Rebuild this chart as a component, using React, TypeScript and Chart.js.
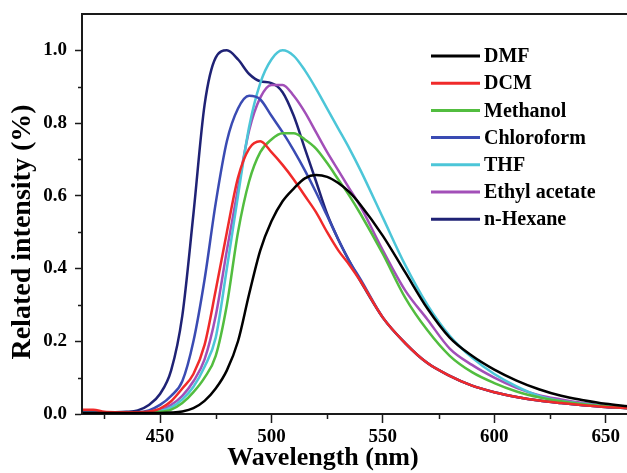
import React, { useEffect, useRef } from "react";
import { Chart, registerables } from "chart.js";

Chart.register(...registerables);

const WAVELENGTHS = [415, 420, 425, 430, 435, 440, 445, 450, 455, 460, 465, 470, 475, 480, 485, 490, 495, 500, 505, 510, 515, 520, 525, 530, 535, 540, 550, 560, 570, 580, 590, 600, 610, 620, 630, 640, 650, 660];

const DMF = [0.003, 0.003, 0.003, 0.003, 0.003, 0.003, 0.003, 0.003, 0.004, 0.007, 0.016, 0.036, 0.07, 0.12, 0.2, 0.33, 0.45, 0.53, 0.585, 0.62, 0.648, 0.657, 0.652, 0.635, 0.61, 0.575, 0.49, 0.39, 0.29, 0.21, 0.16, 0.122, 0.092, 0.068, 0.05, 0.038, 0.028, 0.021];
const DCM = [0.012, 0.012, 0.006, 0.005, 0.005, 0.005, 0.007, 0.015, 0.035, 0.07, 0.11, 0.19, 0.34, 0.5, 0.65, 0.73, 0.75, 0.72, 0.685, 0.645, 0.6, 0.555, 0.5, 0.45, 0.41, 0.365, 0.265, 0.195, 0.14, 0.105, 0.078, 0.06, 0.047, 0.037, 0.03, 0.024, 0.019, 0.016];
const METHANOL = [0.003, 0.003, 0.003, 0.003, 0.003, 0.004, 0.005, 0.006, 0.012, 0.03, 0.06, 0.1, 0.16, 0.3, 0.5, 0.64, 0.72, 0.755, 0.772, 0.772, 0.755, 0.73, 0.69, 0.645, 0.6, 0.55, 0.44, 0.32, 0.23, 0.16, 0.115, 0.085, 0.062, 0.046, 0.035, 0.027, 0.021, 0.016];
const CHLOROFORM = [0.005, 0.005, 0.005, 0.005, 0.005, 0.005, 0.01, 0.025, 0.05, 0.09, 0.2, 0.37, 0.58, 0.75, 0.84, 0.875, 0.865, 0.82, 0.775, 0.725, 0.67, 0.61, 0.545, 0.48, 0.42, 0.37, 0.265, 0.195, 0.14, 0.105, 0.078, 0.06, 0.047, 0.037, 0.03, 0.024, 0.019, 0.016];
const THF = [0.003, 0.003, 0.003, 0.003, 0.003, 0.004, 0.005, 0.008, 0.018, 0.04, 0.075, 0.13, 0.21, 0.4, 0.6, 0.79, 0.91, 0.975, 1.0, 0.985, 0.945, 0.895, 0.84, 0.785, 0.73, 0.67, 0.54, 0.41, 0.3, 0.215, 0.155, 0.11, 0.076, 0.05, 0.036, 0.028, 0.021, 0.016];
const ETHYL_ACETATE = [0.003, 0.003, 0.003, 0.003, 0.003, 0.004, 0.005, 0.01, 0.025, 0.05, 0.09, 0.15, 0.27, 0.45, 0.62, 0.78, 0.87, 0.905, 0.905, 0.875, 0.83, 0.775, 0.72, 0.67, 0.62, 0.57, 0.45, 0.34, 0.26, 0.18, 0.135, 0.1, 0.072, 0.052, 0.04, 0.03, 0.022, 0.016];
const N_HEXANE = [0.005, 0.005, 0.005, 0.005, 0.006, 0.01, 0.025, 0.055, 0.12, 0.27, 0.55, 0.85, 0.98, 1.0, 0.975, 0.935, 0.915, 0.91, 0.885, 0.82, 0.73, 0.64, 0.55, 0.48, 0.42, 0.365, 0.265, 0.195, 0.14, 0.105, 0.078, 0.06, 0.047, 0.037, 0.03, 0.024, 0.019, 0.016];

const SERIES_NAMES = ["DMF", "DCM", "Methanol", "Chloroform", "THF", "Ethyl acetate", "n-Hexane"];
const SERIES_VALUES = [DMF, DCM, METHANOL, CHLOROFORM, THF, ETHYL_ACETATE, N_HEXANE];
const COLORS = ["#000000", "#f02a2a", "#52bd3f", "#3a4bb3", "#4cc6d8", "#a24fb8", "#1f2275"];

const Y_TICKS = [0, 0.2, 0.4, 0.6, 0.8, 1.0];
const Y_MINOR = [0.1, 0.3, 0.5, 0.7, 0.9];
const X_TICKS = [450, 500, 550, 600, 650];
const X_MINOR = [425, 475, 525, 575, 625];

const X_TITLE = "Wavelength (nm)";
const Y_TITLE = "Related intensity (%)";

const FONT = '"Liberation Serif", "Times New Roman", serif';
const AXIS_COLOR = "#1a1a1a";

const decorPlugin = {
  id: "decor",
  afterDraw(chart: any) {
    const { ctx, chartArea, scales } = chart;
    const xs = scales.x;
    const ys = scales.y;
    ctx.save();
    ctx.strokeStyle = AXIS_COLOR;
    ctx.lineWidth = 2;
    ctx.beginPath();
    ctx.moveTo(chartArea.left, chartArea.bottom);
    ctx.lineTo(chartArea.left, chartArea.top);
    ctx.lineTo(chartArea.right, chartArea.top);
    ctx.lineTo(chartArea.right, chartArea.bottom);
    ctx.stroke();
    ctx.lineWidth = 1.5;
    ctx.beginPath();
    Y_MINOR.forEach((v) => {
      const y = Math.round(ys.getPixelForValue(v)) + 0.5;
      ctx.moveTo(chartArea.left, y);
      ctx.lineTo(chartArea.left - 4, y);
    });
    X_MINOR.forEach((v) => {
      const x = Math.round(xs.getPixelForValue(v)) + 0.5;
      ctx.moveTo(x, chartArea.bottom);
      ctx.lineTo(x, chartArea.bottom + 5);
    });
    ctx.stroke();
    const lx0 = 431;
    const lx1 = 480;
    const ly0 = 56;
    const dy = 27.2;
    ctx.font = `bold 20px ${FONT}`;
    ctx.textBaseline = "middle";
    ctx.textAlign = "left";
    SERIES_NAMES.forEach((name, i) => {
      const y = ly0 + i * dy;
      ctx.strokeStyle = COLORS[i];
      ctx.lineWidth = 3;
      ctx.beginPath();
      ctx.moveTo(lx0, y);
      ctx.lineTo(lx1, y);
      ctx.stroke();
      ctx.fillStyle = "#000";
      ctx.fillText(name, lx1 + 4, y + 1);
    });
    ctx.fillStyle = "#000";
    ctx.textAlign = "center";
    ctx.textBaseline = "middle";
    ctx.font = `bold 26px ${FONT}`;
    ctx.fillText(X_TITLE, 323, 458);
    ctx.font = `bold 28px ${FONT}`;
    ctx.translate(23, 232);
    ctx.rotate(-Math.PI / 2);
    ctx.fillText(Y_TITLE, 0, 0);
    ctx.restore();
  },
};

export default function App() {
  const ref = useRef<HTMLCanvasElement | null>(null);
  useEffect(() => {
    if (!ref.current) return;
    const chart = new Chart(ref.current, {
      type: "line",
      data: {
        datasets: SERIES_NAMES.map((name, i) => ({
          label: name,
          data: WAVELENGTHS.map((w, j) => ({ x: w, y: SERIES_VALUES[i][j] })),
          borderColor: COLORS[i],
          backgroundColor: COLORS[i],
          borderWidth: 2.5,
          pointRadius: 0,
          cubicInterpolationMode: "monotone" as const,
          fill: false,
        })),
      },
      options: {
        animation: false,
        responsive: false,
        devicePixelRatio: 1,
        layout: { padding: { top: 14, right: 12, left: 0, bottom: 0 } },
        plugins: { legend: { display: false }, tooltip: { enabled: false } },
        scales: {
          x: {
            type: "linear",
            min: 415,
            max: 660,
            afterBuildTicks: (s: any) => {
              s.ticks = X_TICKS.map((v) => ({ value: v }));
            },
            afterFit: (s: any) => {
              s.height = 59;
              s.paddingLeft = 0;
              s.paddingRight = 0;
            },
            grid: { drawOnChartArea: false, drawTicks: true, tickLength: 9, tickWidth: 1.5, tickColor: AXIS_COLOR },
            border: { display: true, color: AXIS_COLOR, width: 2 },
            ticks: {
              color: "#000",
              font: { family: FONT, size: 19, weight: "bold" },
              padding: 3,
              maxRotation: 0,
              callback: (v: any) => String(v),
            },
          },
          y: {
            type: "linear",
            min: 0,
            max: 1.1,
            afterBuildTicks: (s: any) => {
              s.ticks = Y_TICKS.map((v) => ({ value: v }));
            },
            afterFit: (s: any) => {
              s.width = 82;
              s.paddingTop = 0;
              s.paddingBottom = 0;
            },
            grid: { drawOnChartArea: false, drawTicks: true, tickLength: 7, tickWidth: 1.5, tickColor: AXIS_COLOR },
            border: { display: true, color: AXIS_COLOR, width: 2 },
            ticks: {
              color: "#000",
              font: { family: FONT, size: 19, weight: "bold" },
              padding: 8,
              callback: (v: any) => Number(v).toFixed(1),
            },
          },
        },
      },
      plugins: [decorPlugin],
    });
    return () => chart.destroy();
  }, []);
  return (
    <div style={{ position: "absolute", left: 0, top: 0, width: 627, height: 473, overflow: "hidden", background: "#fff" }}>
      <canvas ref={ref} width={640} height={473} style={{ width: 640, height: 473, display: "block" }} />
    </div>
  );
}
